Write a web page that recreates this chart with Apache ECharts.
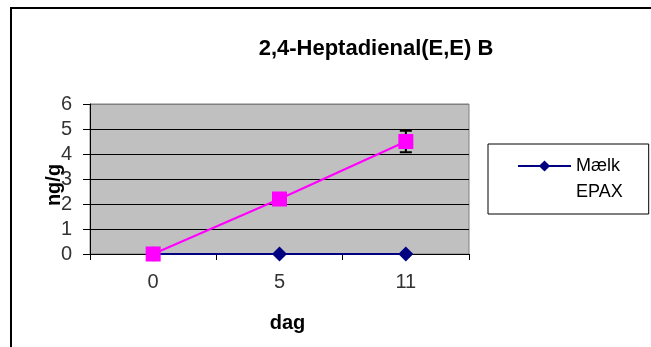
<!DOCTYPE html>
<html>
<head>
<meta charset="utf-8">
<script src="https://cdn.jsdelivr.net/npm/echarts@6/dist/echarts.min.js"></script>
<style>
  html, body { margin: 0; padding: 0; background: #fff; }
  #chart { width: 651px; height: 347px; }
</style>
</head>
<body>
<div id="chart"></div>
<script>
// Sampling days and measured concentrations (ng/g)
const days = ['0', '5', '11'];
const maelk = [0, 0, 0];
const epax = [0, 2.2, 4.5];
// Standard deviation for EPAX
const epaxErr = [0, 0, 0.43];
const yTicks = [0, 1, 2, 3, 4, 5, 6];

const chart = echarts.init(document.getElementById('chart'));
const FONT = '"Liberation Sans", Arial, sans-serif';

chart.setOption({
  animation: false,
  backgroundColor: '#ffffff',
  title: {
    text: '2,4-Heptadienal(E,E) B',
    left: 371, top: 33, textAlign: 'center',
    textStyle: { fontFamily: FONT, fontSize: 22, fontWeight: 'bold', color: '#000' }
  },
  graphic: [{
    type: 'rect', silent: true, z: -10,
    shape: { x: 11, y: 8, width: 800, height: 500 },
    style: { fill: 'none', stroke: '#000', lineWidth: 2 }
  }],
  legend: {
    orient: 'vertical',
    left: 488, top: 144,
    padding: [13, 26, 13, 29],
    itemWidth: 53, itemHeight: 14, itemGap: 8,
    borderColor: '#000', borderWidth: 1,
    textStyle: { fontFamily: FONT, fontSize: 18, color: '#000', padding: [0, 0, 0, 0] },
    data: [
      { name: 'Mælk' },
      { name: 'EPAX', itemStyle: { opacity: 0 }, lineStyle: { opacity: 0 } }
    ]
  },
  grid: {
    left: 90, top: 104, right: 182, bottom: 93,
    show: true, backgroundColor: '#C0C0C0', borderColor: '#808080', borderWidth: 1
  },
  xAxis: {
    type: 'category', data: days, boundaryGap: true,
    name: 'dag', nameLocation: 'middle', nameGap: 59, nameMoveOverlap: false,
    nameTextStyle: { fontFamily: FONT, fontSize: 20, fontWeight: 'bold', color: '#000', padding: [0, 0, 0, 16] },
    axisLine: { lineStyle: { color: '#000', width: 1 } },
    axisTick: { show: true, length: 6, lineStyle: { color: '#000' } },
    axisLabel: { margin: 18, fontFamily: FONT, fontSize: 20, color: '#333' }
  },
  yAxis: {
    type: 'value', min: yTicks[0], max: yTicks[yTicks.length - 1], interval: 1,
    name: 'ng/g', nameLocation: 'middle', nameGap: 26, nameRotate: 90, nameMoveOverlap: false,
    nameTextStyle: { fontFamily: FONT, fontSize: 20, fontWeight: 'bold', color: '#000', padding: [0, 12, 0, 0] },
    axisLine: { show: true, lineStyle: { color: '#000', width: 1 } },
    axisTick: { show: true, length: 7, lineStyle: { color: '#000' } },
    axisLabel: { margin: 18, fontFamily: FONT, fontSize: 20, color: '#333' },
    splitLine: { show: true, lineStyle: { color: ['#000', '#000', '#000', '#000', '#000', '#000', '#808080'], width: 1 } }
  },
  series: [
    {
      name: 'Mælk', type: 'line', data: maelk, z: 2,
      symbol: 'diamond', symbolSize: 15,
      lineStyle: { color: '#000080', width: 2 },
      itemStyle: { color: '#000080' }
    },
    {
      name: 'EPAX-err', type: 'custom', z: 3, silent: true,
      data: epax.map((v, i) => [i, v, epaxErr[i]]),
      renderItem: function (params, api) {
        const err = api.value(2);
        if (!err) return null;
        const x = api.value(0), v = api.value(1);
        const top = api.coord([x, v + err]);
        const bot = api.coord([x, v - err]);
        const hw = 6;
        const s = { stroke: '#000', lineWidth: 2 };
        return {
          type: 'group',
          children: [
            { type: 'line', shape: { x1: top[0], y1: top[1], x2: bot[0], y2: bot[1] }, style: s },
            { type: 'line', shape: { x1: top[0] - hw, y1: top[1], x2: top[0] + hw, y2: top[1] }, style: s },
            { type: 'line', shape: { x1: bot[0] - hw, y1: bot[1], x2: bot[0] + hw, y2: bot[1] }, style: s }
          ]
        };
      }
    },
    {
      name: 'EPAX', type: 'line', data: epax, z: 4,
      symbol: 'rect', symbolSize: 15,
      lineStyle: { color: '#FF00FF', width: 2 },
      itemStyle: { color: '#FF00FF' }
    }
  ]
});
</script>
</body>
</html>
